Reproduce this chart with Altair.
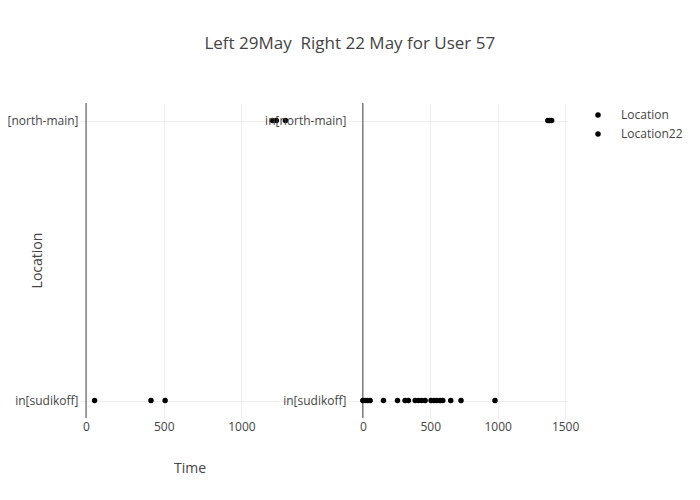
import altair as alt
import pandas as pd

categories = ["in[north-main]", "in[sudikoff]"]
series = ["Location", "Location22"]

left_sudikoff = [55, 418, 509]
left_north = [1200, 1225, 1284]
right_sudikoff = [0, 17, 34, 54, 153, 257, 313, 338, 388, 412, 437, 462,
                  506, 528, 548, 573, 593, 652, 728, 980]
right_north = [1372, 1386, 1400]

left_ticks = [0, 500, 1000]
right_ticks = [0, 500, 1000, 1500]
left_domain = [-39, 1371]
right_domain = [-110, 1514]

title_text = "Left 29May\u00a0 Right 22 May for User 57"


def make_df(sud, north, name):
    return pd.DataFrame({
        "Time": sud + north,
        "Location": [categories[1]] * len(sud) + [categories[0]] * len(north),
        "series": [name] * (len(sud) + len(north)),
    })


left_df = make_df(left_sudikoff, left_north, series[0])
right_df = make_df(right_sudikoff, right_north, series[1])
zero_df = pd.DataFrame({"Time": [0]})

color = alt.Color(
    "series:N",
    scale=alt.Scale(domain=series, range=["#000000", "#000000"]),
    legend=alt.Legend(title=None, orient="none", legendX=512, legendY=6,
                      padding=0, labelOffset=17, symbolType="circle",
                      symbolSize=30, symbolStrokeWidth=0, rowPadding=7),
)


def panel(df, domain, ticks, show_titles):
    x = alt.X(
        "Time:Q",
        scale=alt.Scale(domain=domain, nice=False, zero=False),
        axis=alt.Axis(values=ticks, format="d",
                      title="Time" if show_titles else "",
                      grid=True, domain=False, ticks=False, labelPadding=3,
                      titlePadding=29),
    )
    yaxis_kw = dict(grid=True, domain=False, ticks=False, labelPadding=2)
    if show_titles:
        yaxis_kw.update(title="Location", titleX=-43, titleY=157,
                        titleAlign="center", titleBaseline="middle")
    else:
        yaxis_kw.update(title="")
    y = alt.Y(
        "Location:N",
        scale=alt.Scale(type="point", domain=categories, padding=0.0625),
        axis=alt.Axis(**yaxis_kw),
        sort=categories,
    )
    zero = alt.Chart(zero_df).mark_rule(color="#444444", strokeWidth=1).encode(
        x=alt.X("Time:Q", scale=alt.Scale(domain=domain, nice=False, zero=False))
    )
    pts = alt.Chart(df).mark_circle(size=30, opacity=1).encode(
        x=x, y=y, color=color
    )
    return alt.layer(zero, pts).properties(width=219, height=315)


left = panel(left_df, left_domain, left_ticks, True)
right = panel(right_df, right_domain, right_ticks, False)

chart = alt.hconcat(left, right, spacing=49, bounds="flush").properties(
    title=alt.TitleParams(title_text, anchor="middle", offset=50, dx=10),
    padding={"left": -12, "top": 26, "right": 0, "bottom": 5},
).configure_view(stroke=None).configure_axis(
    labelFont="Open Sans", labelFontSize=12, labelColor="#444444",
    titleFont="Open Sans", titleFontSize=14, titleColor="#444444",
    titleFontWeight="normal", gridColor="#eeeeee", gridWidth=1,
).configure_legend(
    labelFont="Open Sans", labelFontSize=12, labelColor="#444444",
).configure_title(
    font="Open Sans", fontSize=17, color="#444444", fontWeight="normal",
)

chart.save("out.html", embed_options={"renderer": "svg", "actions": False})
